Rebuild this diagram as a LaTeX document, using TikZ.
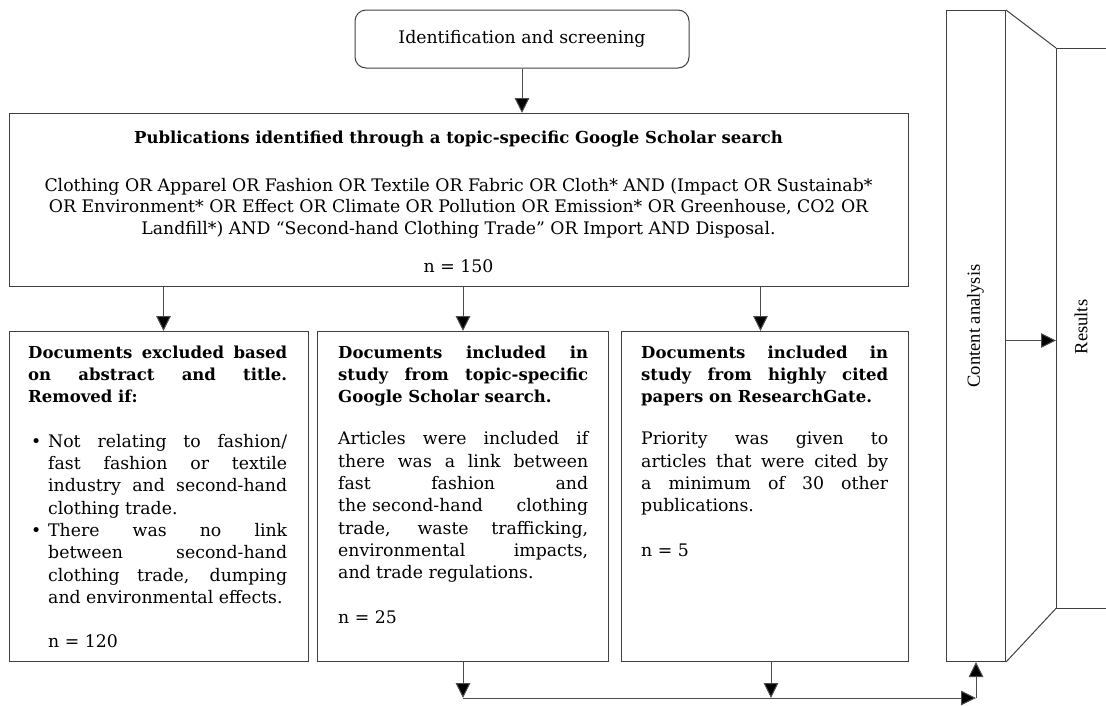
\documentclass[tikz,border=0pt]{standalone}
\usepackage{fontspec}
\setmainfont{DejaVu Serif}
\newfontfamily\timesf{Liberation Serif}
\usetikzlibrary{arrows.meta}
\newcommand\jl[1]{\hbox to\hsize{\spaceskip=0.318em plus 1fil\relax #1}}
\newcommand\lastl[1]{\hbox to\hsize{#1\hfil}}
\newcommand\ijl[1]{\hbox to\hsize{\hskip20pt\spaceskip=0.318em plus 1fil\relax #1}}
\newcommand\ill[1]{\hbox to\hsize{\hskip20pt #1\hfil}}
\newcommand\bjl[1]{\hbox to\hsize{\hbox to20pt{\hskip3pt\textbullet\hfil}\spaceskip=0.318em plus 1fil\relax #1}}
\newcommand\cenl[1]{\hbox to\hsize{\hfil #1\hfil}}
\newcommand\fsp{\hskip0.318em\relax}
\newcommand\bfs{\fontsize{16.5}{22.3}\selectfont\bfseries}
\newcommand\mds{\fontsize{17.3}{22.3}\selectfont\mdseries}
\begin{document}
\begin{tikzpicture}[x=1pt,y=-1pt,
  box/.style={draw=black!75, line width=1pt, inner sep=0pt},
  arr/.style={draw=black!70, line width=1pt, -{Triangle[length=15pt,width=14.5pt,fill=black]}},
  txt/.style={inner sep=0pt, font=\fontsize{17.3}{22.3}\selectfont},
  side/.style={inner sep=0pt, rotate=90, font=\timesf\fontsize{18.5}{22}\selectfont},
]
\useasboundingbox (0,0) rectangle (1106,705);

% boxes
\node[box, rounded corners=11pt, minimum width=334, minimum height=58, font=\fontsize{17.3}{22.3}\selectfont] (top) at (522,39) {Identification and screening};
\node[box, minimum width=899, minimum height=173, anchor=north west] (main) at (9,113) {};
\node[box, minimum width=299, minimum height=330, anchor=north west] (b1) at (9,331) {};
\node[box, minimum width=291, minimum height=330, anchor=north west] (b2) at (317,331) {};
\node[box, minimum width=287, minimum height=330, anchor=north west] (b3) at (621,331) {};
\node[box, minimum width=59, minimum height=651, anchor=north west] (content) at (946,10) {};
\node[inner sep=0pt, minimum width=100, minimum height=560, anchor=north west] (resbox) at (1056,48) {};
\draw[box] (resbox.north east) -- (resbox.north west) -- (resbox.south west) -- (resbox.south east);
\draw[box] (content.north east) -- (resbox.north west);
\draw[box] (content.south east) -- (resbox.south west);

% side labels
\node[side] (contentlbl) at (975.5,326) {Content analysis};
\node[side] (reslbl) at (1081,327) {Results};

% main box text
\node[txt, anchor=base, font=\bfs] (maintitle) at (458.5,143) {Publications identified through a topic-specific Google Scholar search};
\node[txt, anchor=base] (mainbody) at (458.5,191) {\vtop{\hsize=890pt\baselineskip=21.5pt
\cenl{Clothing OR Apparel OR Fashion OR Textile OR Fabric OR Cloth* AND (Impact OR Sustainab*}
\cenl{OR Environment* OR Effect OR Climate OR Pollution OR Emission* OR Greenhouse, CO2 OR}
\cenl{Landfill*) AND “Second-hand Clothing Trade” OR Import AND Disposal.}}};
\node[txt, anchor=base] (n150) at (458.5,272) {n = 150};

% box 1 text
\node[txt, anchor=base west] (t1) at (28,358) {\vtop{\hsize=259pt\baselineskip=22.3pt
\bfs
\jl{Documents excluded based}
\jl{on abstract and title.}
\lastl{Removed if:}
\mds
\vskip22.3pt
\bjl{Not relating to fashion/}
\ijl{fast fashion or textile}
\ijl{industry and second-hand}
\ill{clothing trade.}
\bjl{There was no link}
\ijl{between second-hand}
\ijl{clothing trade, dumping}
\ill{and environmental effects.}
\vskip22.3pt
\ill{n = 120}}};

% box 2 text
\node[txt, anchor=base west] (t2) at (338,358) {\vtop{\hsize=250pt\baselineskip=22.3pt
\bfs
\jl{Documents included in}
\jl{study from topic-specific}
\lastl{Google Scholar search.}
\mds
\vskip20pt
\jl{Articles were included if}
\jl{there was a link between}
\jl{fast fashion and}
\jl{the\fsp second-hand clothing}
\jl{trade, waste trafficking,}
\jl{environmental impacts,}
\lastl{and trade regulations.}
\vskip22.3pt
\lastl{n = 25}}};

% box 3 text
\node[txt, anchor=base west] (t3) at (641,358) {\vtop{\hsize=247pt\baselineskip=22.3pt
\bfs
\jl{Documents included in}
\jl{study from highly cited}
\lastl{papers on ResearchGate.}
\mds
\vskip20pt
\jl{Priority was given to}
\jl{articles that were cited by}
\jl{a minimum of 30 other}
\lastl{publications.}
\vskip22.3pt
\lastl{n = 5}}};

% connectors
\draw[arr] (top.south) -- (top.south |- main.north);
\draw[arr] ([xshift=4.5pt]b1.north |- main.south) -- ([xshift=4.5pt]b1.north);
\draw[arr] (b2.north |- main.south) -- (b2.north);
\draw[arr] ([xshift=-4.5pt]b3.north |- main.south) -- ([xshift=-4.5pt]b3.north);
\coordinate (jl) at (462.5,698);
\coordinate (cae) at ([yshift=-4.5pt]content.east);
\draw[arr] (b2.south) -- (b2.south |- jl);
\draw[arr] ([xshift=6pt]b3.south) -- ([xshift=6pt]b3.south |- jl);
\draw[arr] (jl) -- (content.south |- jl);
\draw[arr] (content.south |- jl) -- (content.south);
\draw[arr] (cae) -- (cae -| resbox.west);
\end{tikzpicture}
\end{document}
